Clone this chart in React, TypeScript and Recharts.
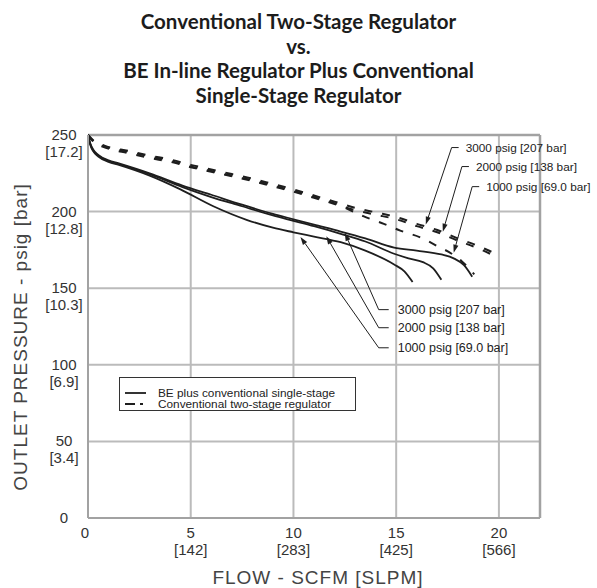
import React from "react";
import {
  CartesianGrid,
  Legend,
  Line,
  LineChart,
  ReferenceLine,
  XAxis,
  YAxis,
} from "recharts";

const FONT = '"Liberation Sans", Arial, sans-serif';
const INK = "#1e1e1e";
const FRAME = "#a2a2a2";
const GRID = "#bbbbbb";

const titleLines = [
  "Conventional Two-Stage Regulator",
  "vs.",
  "BE In-line Regulator Plus Conventional",
  "Single-Stage Regulator",
];

const xTicks = [0, 5, 10, 15, 20];
const xTickSlpm = ["", "[142]", "[283]", "[425]", "[566]"];
const yTicks = [0, 50, 100, 150, 200, 250];
const yTickBar = ["", "[3.4]", "[6.9]", "[10.3]", "[12.8]", "[17.2]"];
const flowMax = 22;
const psigMax = 250;

// BE in-line plus conventional single-stage (solid)
const be3000Flow = [0, 0.1, 0.25, 0.5, 1, 1.5, 3, 4.6, 6, 7.5, 9, 10, 11, 12.3, 13.5, 14.9, 16, 17.2, 17.8, 18.3, 18.7];
const be3000Psig = [250, 245, 240.5, 237, 233.5, 231.5, 225, 217, 211, 204.5, 198.5, 195, 191.5, 187, 182.5, 176.5, 174.5, 172, 169.5, 165, 157.5];
const be2000Flow = [0, 0.1, 0.25, 0.5, 1, 1.5, 3, 4.6, 6, 7.5, 9, 10, 11, 12.3, 13.5, 14.9, 15.6, 16.3, 16.8, 17.2];
const be2000Psig = [250, 244.5, 240, 236.5, 233, 231, 224.5, 216, 209.5, 203.5, 197.5, 194, 190.5, 185.5, 180.5, 172.5, 169.5, 167, 163, 155.5];
const be1000Flow = [0, 0.1, 0.25, 0.5, 1, 1.5, 3, 4.5, 6.1, 7.75, 9, 10, 11, 12.3, 13.5, 14.9, 15.4, 15.8];
const be1000Psig = [250, 244, 239.5, 236, 232.5, 230.5, 223.5, 214.5, 203.5, 194.5, 189.5, 186.5, 183.7, 180, 174.5, 165.5, 161, 154];

// conventional two-stage (dashed)
const conv3000Flow = [0, 0.3, 0.8, 2, 3, 4, 5, 6, 7, 8, 9, 10, 11, 12, 13, 14, 15, 16, 17, 18, 19, 20];
const conv3000Psig = [250, 246, 243, 239.5, 236.5, 234, 230.5, 227.5, 224.5, 221.5, 218, 214.5, 210.5, 206.5, 202.5, 199.5, 196.5, 192, 188, 182.5, 177.5, 171.5];
const conv2000Flow = [0, 0.3, 0.8, 2, 3, 4, 5, 6, 7, 8, 9, 10, 11, 12, 13, 14, 15, 16, 17, 18, 19, 19.8];
const conv2000Psig = [250, 245, 242, 238, 235, 232.5, 229, 226, 223, 220, 216.5, 213, 209, 205, 201, 198, 195, 190.5, 186.5, 181, 176, 171];
const conv1000Flow = [0, 0.3, 0.8, 2, 3, 4, 5, 6, 7, 8, 9, 10, 11, 12, 13.4, 14.4, 15.2, 16.2, 17, 17.7, 18.2, 18.5, 18.8];
const conv1000Psig = [250, 245.5, 242.5, 239, 236, 233, 229.5, 226.5, 223.5, 220.5, 217, 213.5, 209.5, 205.5, 197, 192, 187.6, 183, 177.5, 172.5, 167.5, 163.5, 159];

const legendNames = ["BE plus conventional single-stage", "Conventional two-stage regulator"];

// callouts: label, leader corner [flow, psig], arrow tip [flow, psig]
const noteLabels = ["3000 psig [207 bar]", "2000 psig [138 bar]", "1000 psig [69.0 bar]"];
const lowerCorner = [[14.15, 136], [14.15, 124.2], [14.15, 111.1]];
const lowerTip = [[12.5, 186.1], [11.6, 183.9], [10.34, 183.5]];
const upperCorner = [[17.7, 241.8], [18.2, 229.4], [18.7, 216.3]];
const upperTip = [[16.44, 191.5], [17.27, 186.9], [17.8, 173.2]];

const toPoints = (xs: number[], ys: number[]) => xs.map((x, i) => ({ x, y: ys[i] }));

const solidSeries = [
  { key: "be3000", data: toPoints(be3000Flow, be3000Psig) },
  { key: "be2000", data: toPoints(be2000Flow, be2000Psig) },
  { key: "be1000", data: toPoints(be1000Flow, be1000Psig) },
];
const dashedSeries = [
  { key: "conv3000", data: toPoints(conv3000Flow, conv3000Psig) },
  { key: "conv2000", data: toPoints(conv2000Flow, conv2000Psig) },
  { key: "conv1000", data: toPoints(conv1000Flow, conv1000Psig) },
];

// plot frame (top and right edges) as two-point series
const frameSeries = [
  { key: "top", data: [{ x: 0, y: psigMax }, { x: flowMax, y: psigMax }] },
  { key: "right", data: [{ x: flowMax, y: 0 }, { x: flowMax, y: psigMax }] },
];

function XTick({ x, y, payload }: any) {
  const sub = xTickSlpm[xTicks.indexOf(payload.value)];
  return (
    <g fontFamily={FONT} fontSize={15} fill="#333">
      <text x={payload.value === 0 ? x - 3 : x} y={y + 12} textAnchor="middle">
        {payload.value}
      </text>
      {sub && (
        <text x={x} y={y + 29} textAnchor="middle">
          {sub}
        </text>
      )}
    </g>
  );
}

function YTick({ x, y, payload }: any) {
  const sub = yTickBar[yTicks.indexOf(payload.value)];
  return (
    <g fontFamily={FONT} fontSize={15} fill="#333">
      <text x={x - 16} y={y + 5} textAnchor="middle">
        {payload.value}
      </text>
      {sub && (
        <text x={x - 16} y={y + 22} textAnchor="middle">
          {sub}
        </text>
      )}
    </g>
  );
}

function YTitle() {
  return (
    <text
      x={20}
      y={337}
      transform="rotate(-90, 20, 337)"
      textAnchor="middle"
      dominantBaseline="central"
      fontFamily={FONT}
      fontSize={19}
      letterSpacing={1}
      fill="#444"
    >
      OUTLET PRESSURE - psig [bar]
    </text>
  );
}

function XTitle() {
  return (
    <text
      x={318}
      y={577}
      textAnchor="middle"
      dominantBaseline="central"
      fontFamily={FONT}
      fontSize={19}
      letterSpacing={1}
      fill="#444"
    >
      FLOW - SCFM [SLPM]
    </text>
  );
}

function makeNote(label: string, stub: number, gap: number, size: number) {
  return (p: any) => {
    const { x1, y1, x2, y2 } = p;
    const ang = Math.atan2(y2 - y1, x2 - x1);
    const len = 8;
    const half = 2.6;
    const bx = x2 - len * Math.cos(ang);
    const by = y2 - len * Math.sin(ang);
    const nx = -Math.sin(ang) * half;
    const ny = Math.cos(ang) * half;
    return (
      <g>
        <line x1={x1} y1={y1} x2={x1 + stub} y2={y1} stroke={INK} strokeWidth={1} />
        <line x1={x1} y1={y1} x2={bx} y2={by} stroke={INK} strokeWidth={1} />
        <polygon points={`${x2},${y2} ${bx + nx},${by + ny} ${bx - nx},${by - ny}`} fill={INK} />
        <text x={x1 + gap} y={y1} dy="0.35em" fontSize={size} fill="#222" fontFamily={FONT}>
          {label}
        </text>
      </g>
    );
  };
}

function LegendBox() {
  return (
    <div
      style={{
        position: "relative",
        width: 237,
        height: 34,
        border: "1px solid #333",
        boxSizing: "border-box",
        background: "#fff",
        fontFamily: FONT,
        fontSize: 11.8,
        color: "#222",
      }}
    >
      {legendNames.map((name, i) => (
        <div
          key={name}
          style={{
            position: "absolute",
            left: 5,
            top: 8.5 + i * 11.8,
            height: 12,
            lineHeight: "12px",
            display: "flex",
            alignItems: "center",
            whiteSpace: "nowrap",
          }}
        >
          <svg width={22} height={6}>
            <line
              x1={0}
              y1={3}
              x2={21}
              y2={3}
              stroke={INK}
              strokeWidth={1.8}
              strokeDasharray={i ? "10 5 3 30" : undefined}
            />
          </svg>
          <span style={{ marginLeft: 11 }}>{name}</span>
        </div>
      ))}
    </div>
  );
}

export default function App() {
  return (
    <div style={{ position: "absolute", left: 0, top: 0, width: 597, height: 588, background: "#fff" }}>
      <div
        style={{
          position: "absolute",
          left: 0,
          top: 9,
          width: 597,
          textAlign: "center",
          fontFamily: "Lato, 'Open Sans', sans-serif",
          fontWeight: 700,
          fontSize: 20.5,
          lineHeight: "24.5px",
          color: "#1c1c1c",
        }}
      >
        {titleLines.map((t) => (
          <div key={t}>{t}</div>
        ))}
      </div>
      <div style={{ position: "absolute", left: 0, top: 0 }}>
        <LineChart width={597} height={588} margin={{ top: 135, right: 57, bottom: 0, left: 0 }}>
          <CartesianGrid stroke={GRID} strokeWidth={2} />
          <XAxis
            type="number"
            dataKey="x"
            domain={[0, flowMax]}
            ticks={xTicks}
            interval={0}
            height={70}
            tickLine={false}
            axisLine={{ stroke: FRAME, strokeWidth: 2 }}
            tick={<XTick />}
            label={<XTitle />}
          />
          <YAxis
            type="number"
            domain={[0, psigMax]}
            ticks={yTicks}
            interval={0}
            width={88}
            tickLine={false}
            axisLine={{ stroke: FRAME, strokeWidth: 2 }}
            tick={<YTick />}
            label={<YTitle />}
          />
          <Legend
            layout="vertical"
            align="center"
            verticalAlign="middle"
            wrapperStyle={{ left: 119, top: 377, width: 237 }}
            content={<LegendBox />}
          />
          {frameSeries.map((g) => (
            <Line
              key={g.key}
              data={g.data}
              dataKey="y"
              type="linear"
              stroke={FRAME}
              strokeWidth={2.5}
              dot={false}
              activeDot={false}
              legendType="none"
              isAnimationActive={false}
            />
          ))}
          {dashedSeries.map((s) => (
            <Line
              key={s.key}
              data={s.data}
              dataKey="y"
              type="monotone"
              stroke={INK}
              strokeWidth={2}
              strokeDasharray="8 10"
              dot={false}
              activeDot={false}
              isAnimationActive={false}
            />
          ))}
          {solidSeries.map((s) => (
            <Line
              key={s.key}
              data={s.data}
              dataKey="y"
              type="monotone"
              stroke={INK}
              strokeWidth={1.8}
              dot={false}
              activeDot={false}
              isAnimationActive={false}
            />
          ))}
          {noteLabels.map((label, i) => (
            <ReferenceLine
              key={"lo" + label}
              segment={[
                { x: lowerCorner[i][0], y: lowerCorner[i][1] },
                { x: lowerTip[i][0], y: lowerTip[i][1] },
              ]}
              ifOverflow="visible"
              shape={makeNote(label, 10, 19, 12.5)}
            />
          ))}
          {noteLabels.map((label, i) => (
            <ReferenceLine
              key={"up" + label}
              segment={[
                { x: upperCorner[i][0], y: upperCorner[i][1] },
                { x: upperTip[i][0], y: upperTip[i][1] },
              ]}
              ifOverflow="visible"
              shape={makeNote(label, 7, 14, 11.8)}
            />
          ))}
        </LineChart>
      </div>
    </div>
  );
}
